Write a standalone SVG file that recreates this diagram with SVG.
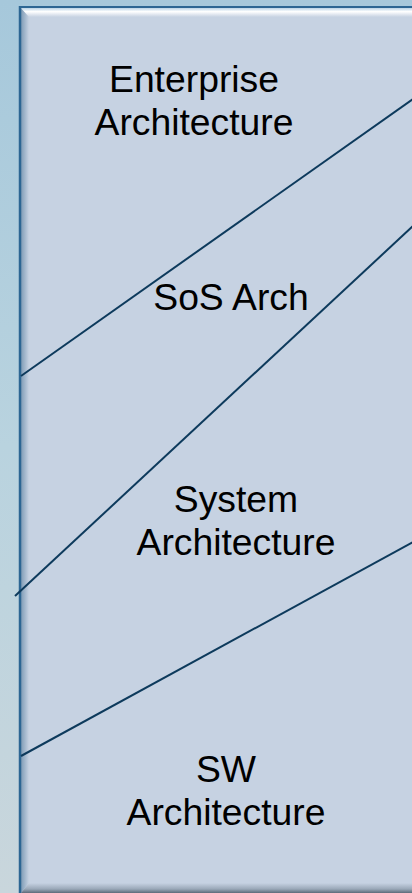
<svg xmlns="http://www.w3.org/2000/svg" width="412" height="893" viewBox="0 0 412 893">
<defs>
<linearGradient id="bg" x1="0" y1="0" x2="0" y2="1">
<stop offset="0" stop-color="#a6c8db"/>
<stop offset="0.5" stop-color="#b9d3df"/>
<stop offset="1" stop-color="#c9d6dc"/>
</linearGradient>
<linearGradient id="topbev" x1="0" y1="0" x2="0" y2="1">
<stop offset="0" stop-color="#b9d3e6"/>
<stop offset="0.4" stop-color="#ffffff"/>
<stop offset="1" stop-color="#c6d2e2"/>
</linearGradient>
<linearGradient id="leftbev" x1="0" y1="0" x2="1" y2="0">
<stop offset="0" stop-color="#7f9cb6"/>
<stop offset="1" stop-color="#c6d2e2"/>
</linearGradient>
<linearGradient id="botbev" x1="0" y1="0" x2="0" y2="1">
<stop offset="0" stop-color="#c6d2e2"/>
<stop offset="0.6" stop-color="#9aa8b8"/>
<stop offset="1" stop-color="#5d6b7a"/>
</linearGradient>
<style>
.lbl{font-family:"Liberation Sans",Arial,sans-serif;font-size:37.3px;fill:#000;text-anchor:middle}
.div{stroke:#0d3a5c;stroke-width:2;fill:none}
</style>
</defs>
<rect x="0" y="0" width="412" height="893" fill="url(#bg)"/>
<g id="panel">
<rect x="19" y="6" width="400" height="887" fill="#c6d2e2"/>
<polygon points="21,8 29,16 29,883 21,893" fill="url(#leftbev)"/>
<polygon points="21,893 29,883 412,883 412,893" fill="url(#botbev)"/>
<polygon points="21,8 29,17 412,17 412,8" fill="url(#topbev)"/>
<line x1="20" y1="6" x2="20" y2="893" stroke="#2c6693" stroke-width="2.5"/>
<line x1="19" y1="7" x2="412" y2="7" stroke="#2c6693" stroke-width="2"/>
</g>
<g id="connectors">
<line class="div" x1="21" y1="376" x2="413" y2="99"/>
<line class="div" x1="15" y1="596" x2="413" y2="226"/>
<line class="div" x1="21" y1="756" x2="413" y2="542"/>
</g>
<g id="enterprise">
<text class="lbl" x="194" y="92">Enterprise</text>
<text class="lbl" x="194" y="135">Architecture</text>
</g>
<g id="sos">
<text class="lbl" x="231" y="310">SoS Arch</text>
</g>
<g id="system">
<text class="lbl" x="236" y="512">System</text>
<text class="lbl" x="236" y="555">Architecture</text>
</g>
<g id="sw">
<text class="lbl" x="226" y="782">SW</text>
<text class="lbl" x="226" y="825">Architecture</text>
</g>
</svg>
